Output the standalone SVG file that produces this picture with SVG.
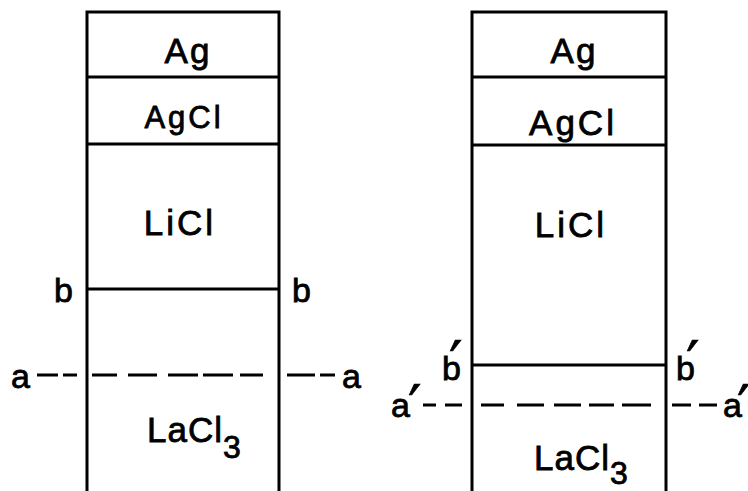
<svg xmlns="http://www.w3.org/2000/svg" width="748" height="491" viewBox="0 0 748 491">
  <style>
    .wall { fill: none; stroke: #000; stroke-width: 3; stroke-linecap: square; }
    .div { fill: none; stroke: #000; stroke-width: 2.8; }
    .dash { fill: none; stroke: #000; stroke-width: 3; }
    .lbl { font-family: "Liberation Sans", Arial, sans-serif; font-size: 35px; fill: #000; stroke: #000; stroke-width: 0.8px; }
    .mid { text-anchor: middle; letter-spacing: 2px; }
    .tag { font-family: "Liberation Sans", Arial, sans-serif; font-size: 34px; fill: #000; stroke: #000; stroke-width: 0.8px; }
    .pr { font-family: "DejaVu Sans", "Liberation Sans", sans-serif; font-size: 60px; fill: #000; stroke: #000; stroke-width: 0.6px; }
  </style>
  <rect width="748" height="491" fill="#fff"/>

  <!-- Cell before polarisation -->
  <g id="cell-left">
    <path class="wall" d="M87 491 V12 H279 V491"/>
    <g id="left-ag">
      <text class="lbl mid" x="188" y="63">Ag</text>
    </g>
    <g id="left-agcl">
      <path class="div" d="M87 77 H279"/>
      <text class="lbl mid" x="184" y="128" style="font-size:31px;letter-spacing:3px">AgCl</text>
    </g>
    <g id="left-licl">
      <path class="div" d="M87 144 H279"/>
      <text class="lbl mid" x="180" y="235" style="letter-spacing:3px">LiCl</text>
    </g>
    <g id="left-boundary-b">
      <path class="div" d="M87 289 H279"/>
      <text class="tag" x="54" y="302">b</text>
      <text class="tag" x="292" y="302">b</text>
    </g>
    <g id="left-lacl3">
      <text class="lbl" x="147" y="442" style="letter-spacing:1px">LaCl<tspan dy="16" style="font-size:32px">3</tspan></text>
    </g>
  </g>

  <!-- Cell after polarisation -->
  <g id="cell-right">
    <path class="wall" d="M472 491 V12 H666 V491"/>
    <g id="right-ag">
      <text class="lbl mid" x="574" y="63">Ag</text>
    </g>
    <g id="right-agcl">
      <path class="div" d="M472 77 H666"/>
      <text class="lbl mid" x="573" y="135" style="letter-spacing:3px">AgCl</text>
    </g>
    <g id="right-licl">
      <path class="div" d="M472 145 H666"/>
      <text class="lbl mid" x="571" y="237" style="letter-spacing:3px">LiCl</text>
    </g>
    <g id="right-boundary-b">
      <path class="div" d="M472 365 H666"/>
      <text class="tag" x="442" y="380">b<tspan class="pr" x="449" y="384">′</tspan></text>
      <text class="tag" x="676" y="380">b<tspan class="pr" x="686" y="384">′</tspan></text>
    </g>
    <g id="right-lacl3">
      <text class="lbl" x="534" y="470" style="letter-spacing:1px">LaCl<tspan dy="14" style="font-size:32px">3</tspan></text>
    </g>
  </g>

  <!-- Reference planes a and a′ -->
  <g id="connectors">
    <path class="dash" d="M37 375 H58 M63 375 H77 M92 375 H117 M128 375 H157 M168 375 H198 M203 375 H233 M240 375 H263 M287 375 H315 M320 375 H335"/>
    <text class="tag" x="11" y="388">a</text>
    <text class="tag" x="342" y="388">a</text>
    <path class="dash" d="M423 405 H436 M445 405 H462 M481 405 H504 M517 405 H544 M554 405 H581 M589 405 H614 M622 405 H651 M672 405 H691 M699 405 H717"/>
    <text class="tag" x="391" y="417">a<tspan class="pr" x="408" y="428">′</tspan></text>
    <text class="tag" x="723" y="417">a<tspan class="pr" x="737" y="428">′</tspan></text>
  </g>
</svg>
